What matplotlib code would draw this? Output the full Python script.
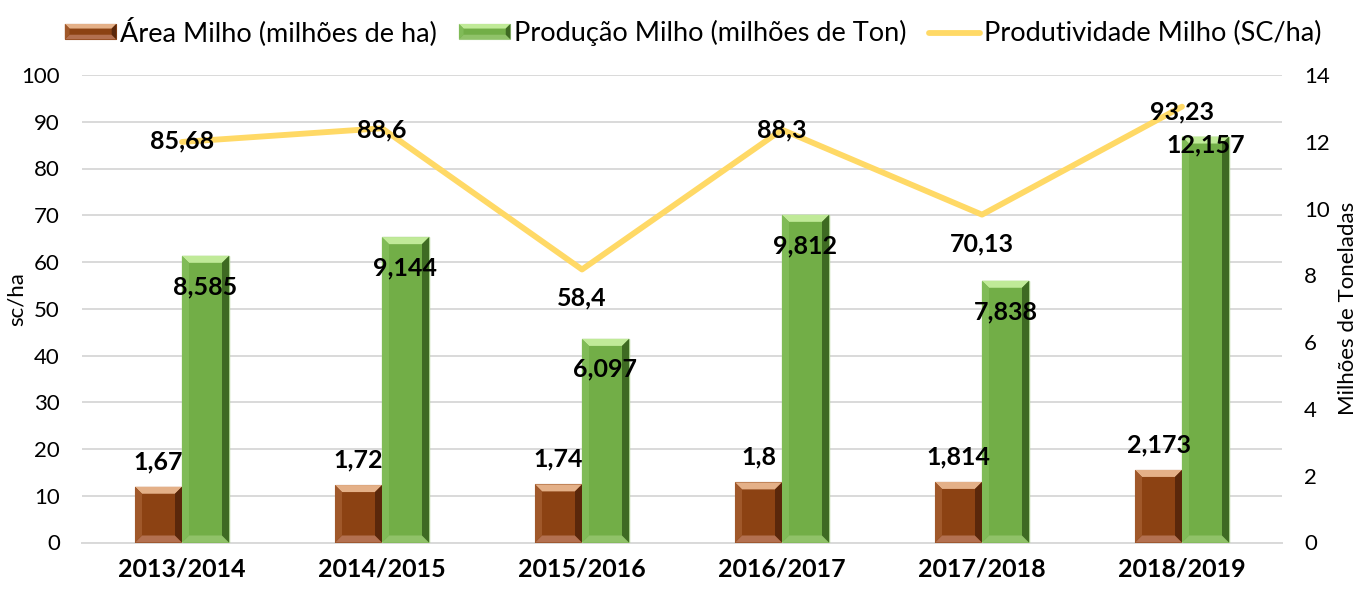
import matplotlib
matplotlib.use('Agg')
import matplotlib.pyplot as plt
from matplotlib.patches import Polygon, Rectangle
from matplotlib.lines import Line2D
from matplotlib.legend_handler import HandlerBase

# ---------------- data ----------------
categories = ['2013/2014', '2014/2015', '2015/2016', '2016/2017', '2017/2018', '2018/2019']
area = [1.67, 1.72, 1.74, 1.8, 1.814, 2.173]            # milhões de ha (right axis)
producao = [8.585, 9.144, 6.097, 9.812, 7.838, 12.157]  # milhões de Ton (right axis)
produtividade = [85.68, 88.6, 58.4, 88.3, 70.13, 93.23] # SC/ha (left axis)
left_ticks = list(range(0, 101, 10))
right_ticks = list(range(0, 15, 2))

legend_labels = ['Área Milho (milhões de ha)', 'Produção Milho (milhões de Ton)',
                 'Produtividade Milho (SC/ha)']

# ---------------- style ----------------
FONT = ['Lato', 'DejaVu Sans']
plt.rcParams['font.family'] = FONT

brown = dict(main='#8C4213', top='#E4B088', bottom='#B37050', left='#A0582A', right='#5A270B', edge='#8C4213')
green = dict(main='#72AE47', top='#C0EA98', bottom='#90C269', left='#80BB57', right='#3E6A22', edge='#A9D18E')
line_color = '#FFD966'
grid_color = '#D9D9D9'

W, H = 1362, 592
fig = plt.figure(figsize=(W / 100, H / 100), dpi=100)
ax_l, ax_r, ax_t, ax_b = 82, 1282, 75, 542.5
ax = fig.add_axes([ax_l / W, 1 - ax_b / H, (ax_r - ax_l) / W, (ax_b - ax_t) / H])

x = list(range(len(categories)))
ax.set_xlim(-0.5, len(categories) - 0.5)
ax.set_ylim(0, 100)
ax.set_yticks(left_ticks)
ax.yaxis.grid(True, color=grid_color, lw=1.4)
ax.set_axisbelow(True)
for s in ['top', 'left', 'right']:
    ax.spines[s].set_visible(False)
ax.spines['bottom'].set_color(grid_color)
ax.spines['bottom'].set_linewidth(1.4)
ax.set_xticks(x)
ax.set_xticklabels(categories, fontsize=18, fontweight='bold')
ax.tick_params(axis='x', length=0, pad=11)
ax.tick_params(axis='y', length=0, labelsize=16, pad=16)
ax.set_ylabel('sc/ha', fontsize=16)
ax.yaxis.set_label_coords(-0.046, 0.52)

# bars on right axis
ax2 = ax.twinx()
ax2.set_ylim(0, 14)
ax2.set_yticks(right_ticks)
for s in ax2.spines.values():
    s.set_visible(False)
ax2.tick_params(axis='y', length=0, labelsize=16, pad=16)
ax2.set_ylabel('Milhões de Toneladas', fontsize=16)
ax2.yaxis.set_label_coords(1.047, 0.5)

bw = 0.235
bars_a = ax2.bar([i - bw / 2 for i in x], area, width=bw, color=brown['main'],
                 edgecolor=brown['edge'], lw=0.8, zorder=2)
bars_p = ax2.bar([i + bw / 2 for i in x], producao, width=bw, color=green['main'],
                 edgecolor=green['edge'], lw=1.0, zorder=2)

# bevel decoration
px_x = (ax.get_xlim()[1] - ax.get_xlim()[0]) / (ax_r - ax_l)
px_y = 14 / (ax_b - ax_t)


def bevel(axis, rect, c, bpx=7):
    x0, y0 = rect.get_x(), rect.get_y()
    x1, y1 = x0 + rect.get_width(), y0 + rect.get_height()
    bx, by = bpx * px_x, bpx * px_y
    polys = [
        ([(x0, y1), (x1, y1), (x1 - bx, y1 - by), (x0 + bx, y1 - by)], c['top']),
        ([(x0, y0), (x1, y0), (x1 - bx, y0 + by), (x0 + bx, y0 + by)], c['bottom']),
        ([(x0, y0), (x0 + bx, y0 + by), (x0 + bx, y1 - by), (x0, y1)], c['left']),
        ([(x1, y0), (x1 - bx, y0 + by), (x1 - bx, y1 - by), (x1, y1)], c['right']),
    ]
    for pts, col in polys:
        axis.add_patch(Polygon(pts, closed=True, facecolor=col, edgecolor='none', zorder=3))


for r in bars_a:
    bevel(ax2, r, brown)
for r in bars_p:
    bevel(ax2, r, green)


def fmt(v):
    return ('%g' % v).replace('.', ',')


for r, v in zip(bars_a, area):
    ax2.annotate(fmt(v), (r.get_x() + r.get_width() / 2, v), xytext=(0, 25),
                 textcoords='offset pixels', ha='center', va='center',
                 fontsize=18, fontweight='bold', zorder=5)
green_off = [-31, -31, -30, -31, -31, -8]
for r, v, o in zip(bars_p, producao, green_off):
    ax2.annotate(fmt(v), (r.get_x() + r.get_width() / 2, v), xytext=(0, o),
                 textcoords='offset pixels', ha='center', va='center',
                 fontsize=18, fontweight='bold', zorder=5)

# line on its own overlay axis (same 0-100 scale as left axis)
ax3 = ax.twinx()
ax3.set_ylim(0, 100)
ax3.axis('off')
ax3.plot(x, produtividade, color=line_color, lw=4.2, solid_capstyle='round', zorder=4)
line_off = [1, -2, -28, 0, -29, -5]
for xi, v, o in zip(x, produtividade, line_off):
    ax3.annotate(fmt(v), (xi, v), xytext=(0, o), textcoords='offset pixels',
                 ha='center', va='center', fontsize=18, fontweight='bold', zorder=6)


# legend
class BevelHandler(HandlerBase):
    def __init__(self, c):
        super().__init__()
        self.c = c

    def create_artists(self, legend, orig_handle, xdescent, ydescent, width, height, fontsize, trans):
        c = self.c
        x0, y0 = -xdescent, -ydescent
        x1, y1 = x0 + width, y0 + height
        b = height * 0.3
        arts = [Rectangle((x0, y0), width, height, facecolor=c['main'], edgecolor=c['edge'], lw=0.8)]
        polys = [
            ([(x0, y1), (x1, y1), (x1 - b, y1 - b), (x0 + b, y1 - b)], c['top']),
            ([(x0, y0), (x1, y0), (x1 - b, y0 + b), (x0 + b, y0 + b)], c['bottom']),
            ([(x0, y0), (x0 + b, y0 + b), (x0 + b, y1 - b), (x0, y1)], c['left']),
            ([(x1, y0), (x1 - b, y0 + b), (x1 - b, y1 - b), (x1, y1)], c['right']),
        ]
        for pts, col in polys:
            arts.append(Polygon(pts, closed=True, facecolor=col, edgecolor='none'))
        for a in arts:
            a.set_transform(trans)
        return arts


h_a = Rectangle((0, 0), 1, 1)
h_p = Rectangle((0, 0), 1, 1)
h_l = Line2D([], [], color=line_color, lw=4.2, solid_capstyle='round')
fig.legend([h_a, h_p, h_l], legend_labels, loc='upper center', bbox_to_anchor=(0.509, 1.012),
           ncol=3, frameon=False, fontsize=19.5, handlelength=1.9, handleheight=0.5,
           handletextpad=0.15, columnspacing=0.8,
           handler_map={h_a: BevelHandler(brown), h_p: BevelHandler(green)})

fig.savefig('out.png', dpi=100)
